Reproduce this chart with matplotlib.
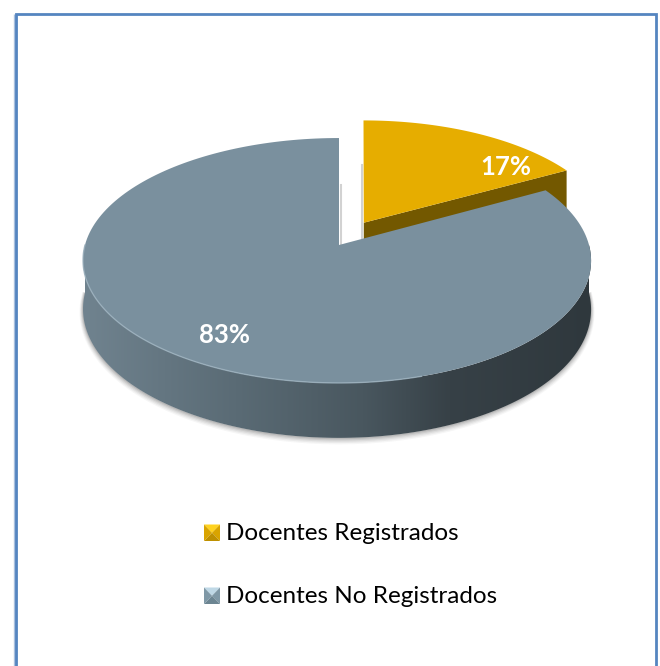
import numpy as np
import matplotlib
matplotlib.use("Agg")
import matplotlib.pyplot as plt
from matplotlib.patches import Polygon

categories = ["Docentes Registrados", "Docentes No Registrados"]
values = [17, 83]
pct_labels = ["17%", "83%"]

GOLD = "#E6AD00"
GOLD_DARK = "#735800"
GREY = "#7A909E"
BORDER = "#5585C0"

# pie plane -> pixels, tilted with a little perspective
CX, CY = 339, 245
RX, RY = 252, 120.5
K = 0.1265
DEPTH = 48


def project(u, v):
    w = 1 + K * v
    return CX - 2 * u ** 2 + RX * u / w, CY - RY * v / w


def wall(v):
    return DEPTH / (1 + K * v)


def arc(start, end, n=200):
    # fractions of the pie, clockwise from 12 o'clock
    t = 2 * np.pi * np.linspace(start, end, n)
    return np.sin(t), np.cos(t)


def wedge_top(start, end, ex=0.0, ey=0.0):
    u, v = arc(start, end)
    u = np.r_[ex * 0.9, u + ex]
    v = np.r_[ey, v + ey]
    x, y = project(u, v)
    return np.c_[x, y]


fig = plt.figure(figsize=(6.6, 6.66), dpi=100)
ax = fig.add_axes([0, 0, 1, 1])
ax.set_xlim(0, 660)
ax.set_ylim(666, 0)
ax.axis("off")

# frame, runs off the bottom of the picture
ax.plot([15, 15], [666, 14], color="#A9C0DE", lw=2.4, solid_capstyle="butt")
ax.plot([15.7, 15.7, 656, 656], [666, 14, 14, 666], color=BORDER, lw=2.0,
        solid_joinstyle="miter", solid_capstyle="butt")

fractions = np.array(values) / sum(values)
cut = fractions[0]

# exploded gold slice
mid = 2 * np.pi * cut / 2
ex, ey = 0.22 * np.sin(mid), 0.22 * np.cos(mid)
gold_top = wedge_top(0, cut, ex, ey)
apex, rim_end = gold_top[0], gold_top[-1]
d_a, d_e = wall(ey), wall(ey + np.cos(2 * np.pi * cut))
ax.add_patch(Polygon([apex, rim_end, rim_end + [0, d_e], apex + [0, d_a]],
                     fc=GOLD_DARK, ec="none", zorder=2))
ax.add_patch(Polygon(gold_top, fc=GOLD, ec="none", zorder=3))
ax.plot([apex[0] - 1.5] * 2, [apex[1] + 15, apex[1] - 58], color="#808080",
        lw=1.5, alpha=0.35, zorder=2)

# grey slice: soft shadow, curved wall with gradient, top face
u, v = arc(0.25, 0.75)
fx, fy = project(u, v)
low = fy + wall(v)
side = np.r_[np.c_[fx, fy], np.c_[fx, low][::-1]]

for grow, a in zip([5, 4, 3, 2, 1], [0.05, 0.07, 0.09, 0.12, 0.16]):
    ax.plot(fx, low + grow * 0.6, color="#555555", lw=grow, alpha=a, zorder=4)

grad = np.array([0.0, 0.16, 0.30, 0.55, 0.72, 1.0])
stops = np.array([[0x70, 0x83, 0x8F], [0x64, 0x76, 0x81], [0x5A, 0x6B, 0x75],
                  [0x49, 0x57, 0x5F], [0x37, 0x41, 0x47], [0x2F, 0x38, 0x3D]]) / 255
xs = np.linspace(0, 1, 400)
img = np.stack([np.interp(xs, grad, stops[:, i]) for i in range(3)], axis=-1)[None, :, :]
pad_y = (fy.min() - 5, low.max() + 5)
im = ax.imshow(img, extent=[fx.min(), fx.max(), pad_y[1], pad_y[0]], aspect="auto", zorder=5)
clip = Polygon(side, transform=ax.transData, fc="none", ec="none")
ax.add_patch(clip)
im.set_clip_path(clip)
ax.set_xlim(0, 660)
ax.set_ylim(666, 0)

grey_top = wedge_top(cut, 1.0)
ax.plot([CX + 1.5] * 2, [CY + 1, CY - 60], color="#808080", lw=1.5, alpha=0.35, zorder=2)
ax.add_patch(Polygon(grey_top, fc=GREY, ec="none", zorder=6))
# light rim on the front edge, only on the lit side
lit = u < 0.3
ax.plot(fx[lit], fy[lit], color="#9DB2BF", lw=1.0, alpha=0.8, zorder=7)

# percentage labels
lab_pos = [(506, 167), (225, 335)]
for txt, (lx, ly) in zip(pct_labels, lab_pos):
    ax.text(lx, ly, txt, color="white", fontsize=18.5, fontweight="bold", family="Lato",
            ha="center", va="center", zorder=8)

# legend, markers look like small pyramids
leg_y = [533, 596]
leg_cols = [["#FFD21F", "#D9A400", "#BE9000", "#D9A400"],
            ["#BFD8E6", "#7F98A6", "#6C8592", "#7F98A6"]]
for name, y0, cols in zip(categories, leg_y, leg_cols):
    x0, x1 = 204, 220
    xm = (x0 + x1) / 2
    t, b = y0 - 8.5, y0 + 8
    c = (xm, (t + b) / 2)
    ax.add_patch(Polygon([(x0, t), (x1, t), c], fc=cols[0], ec="none", zorder=3))
    ax.add_patch(Polygon([(x1, t), (x1, b), c], fc=cols[1], ec="none", zorder=3))
    ax.add_patch(Polygon([(x0, b), (x1, b), c], fc=cols[2], ec="none", zorder=3))
    ax.add_patch(Polygon([(x0, t), (x0, b), c], fc=cols[3], ec="none", zorder=3))
    ax.text(226, y0 + 0.5, name, color="black", fontsize=17.5, family="Lato", ha="left", va="center")

fig.savefig("out.png", dpi=100)
